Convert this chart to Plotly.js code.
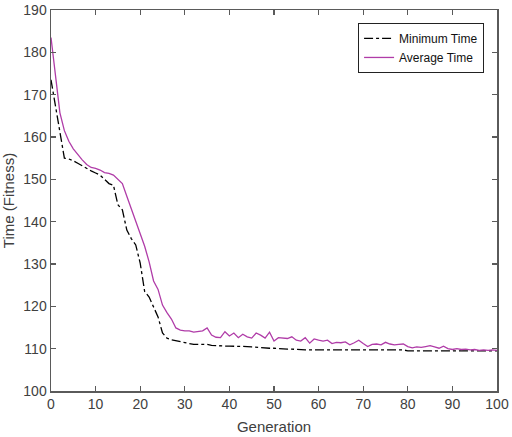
<!DOCTYPE html>
<html>
<head>
<meta charset="utf-8">
<script src="https://cdn.plot.ly/plotly-3.0.1.min.js"></script>
<style>
  html, body { margin: 0; padding: 0; background: #fff; }
  #chart { width: 512px; height: 437px; }
</style>
</head>
<body>
<div id="chart"></div>
<script>
// generations 0..100
var generations = [];
for (var g = 0; g <= 100; g++) generations.push(g);

// values, one per generation
var minTime = [
  173.5, 167, 161, 155, 154.8, 154.4, 153.8, 153.2, 152.4, 152,
  151.5, 151, 150, 149, 148.6, 144, 142.8, 138, 136, 134.5,
  130.2, 123.5, 122.2, 120, 117.5, 113.7, 112.5, 112.1, 111.9, 111.6,
  111.4, 111.2, 111, 111, 111, 111, 110.8, 110.7, 110.7, 110.6,
  110.6, 110.6, 110.5, 110.5, 110.5, 110.4, 110.3, 110.3, 110.2, 110.1,
  110.1, 110, 110, 109.9, 109.9, 109.8, 109.7, 109.7, 109.7, 109.7,
  109.7, 109.7, 109.7, 109.7, 109.7, 109.7, 109.7, 109.7, 109.7, 109.7,
  109.7, 109.7, 109.7, 109.7, 109.7, 109.7, 109.7, 109.7, 109.7, 109.7,
  109.5, 109.5, 109.5, 109.5, 109.5, 109.5, 109.5, 109.5, 109.5, 109.5,
  109.5, 109.5, 109.5, 109.5, 109.5, 109.5, 109.5, 109.5, 109.5, 109.5,
  109.5
];

var avgTime = [
  183.5, 174, 165.7, 161.5, 159, 157.2, 155.8, 154.6, 153.5, 152.8,
  152.6, 152.2, 151.6, 151.4, 151, 150, 149, 146, 143, 140,
  137.3, 134.2, 130.5, 126, 124, 120.3, 118.5, 117, 114.9, 114.4,
  114.2, 114.2, 113.9, 114, 114.2, 114.9, 113.2, 112.7, 112.6, 114,
  113, 113.7, 112.6, 113.4, 112.8, 112.5, 113.7, 113.2, 112.5, 113.9,
  111.8, 112.6, 112.5, 112.4, 112.8, 112, 111.8, 112.6, 111.3, 112.3,
  112, 111.8, 112, 111.2, 111.5, 111.4, 111.6, 110.9, 111.4, 112,
  111.2, 110.5, 111, 111.1, 110.9, 111.5, 111.1, 110.9, 111, 111.1,
  110.5, 110.2, 110.4, 110.3, 110.5, 110.7, 110.4, 110.1, 110.6, 110,
  109.8, 110, 109.8, 109.9, 109.7, 109.8, 109.6, 109.7, 109.6, 109.7,
  109.6
];

var xTicks = [0, 10, 20, 30, 40, 50, 60, 70, 80, 90, 100];
var yTicks = [100, 110, 120, 130, 140, 150, 160, 170, 180, 190];

var data = [
  {
    x: generations,
    y: minTime,
    name: 'Minimum Time',
    mode: 'lines',
    line: { color: '#000000', width: 1.3, dash: 'dashdot' }
  },
  {
    x: generations,
    y: avgTime,
    name: 'Average Time',
    mode: 'lines',
    line: { color: '#b03ca8', width: 1.3 }
  }
];

var axisStyle = {
  showgrid: false,
  zeroline: false,
  showline: true,
  mirror: 'ticks',
  linecolor: '#5a5a5a',
  linewidth: 1.5,
  ticks: 'inside',
  ticklen: 5,
  tickcolor: '#5a5a5a',
  tickwidth: 1.2,
  tickfont: { size: 14, color: '#404040' }
};

var layout = {
  width: 512,
  height: 437,
  margin: { l: 51, r: 15, t: 10, b: 46, pad: 0 },
  paper_bgcolor: '#fff',
  plot_bgcolor: '#fff',
  font: { family: '"Liberation Sans", Arial, sans-serif', color: '#404040' },
  xaxis: Object.assign({}, axisStyle, {
    range: [0, 100],
    tickvals: xTicks,
    title: { text: 'Generation', font: { size: 15, color: '#404040' }, standoff: 10 }
  }),
  yaxis: Object.assign({}, axisStyle, {
    range: [100, 190],
    tickvals: yTicks,
    title: { text: 'Time (Fitness)', font: { size: 15, color: '#404040' }, standoff: 6 }
  }),
  legend: {
    x: 0.971, y: 0.966, xanchor: 'right', yanchor: 'top',
    bgcolor: '#fff',
    bordercolor: '#222',
    borderwidth: 1,
    font: { size: 12, color: '#111' },
    tracegroupgap: 0
  },
  showlegend: true
};

Plotly.newPlot('chart', data, layout, { displayModeBar: false, staticPlot: true });
</script>
</body>
</html>
